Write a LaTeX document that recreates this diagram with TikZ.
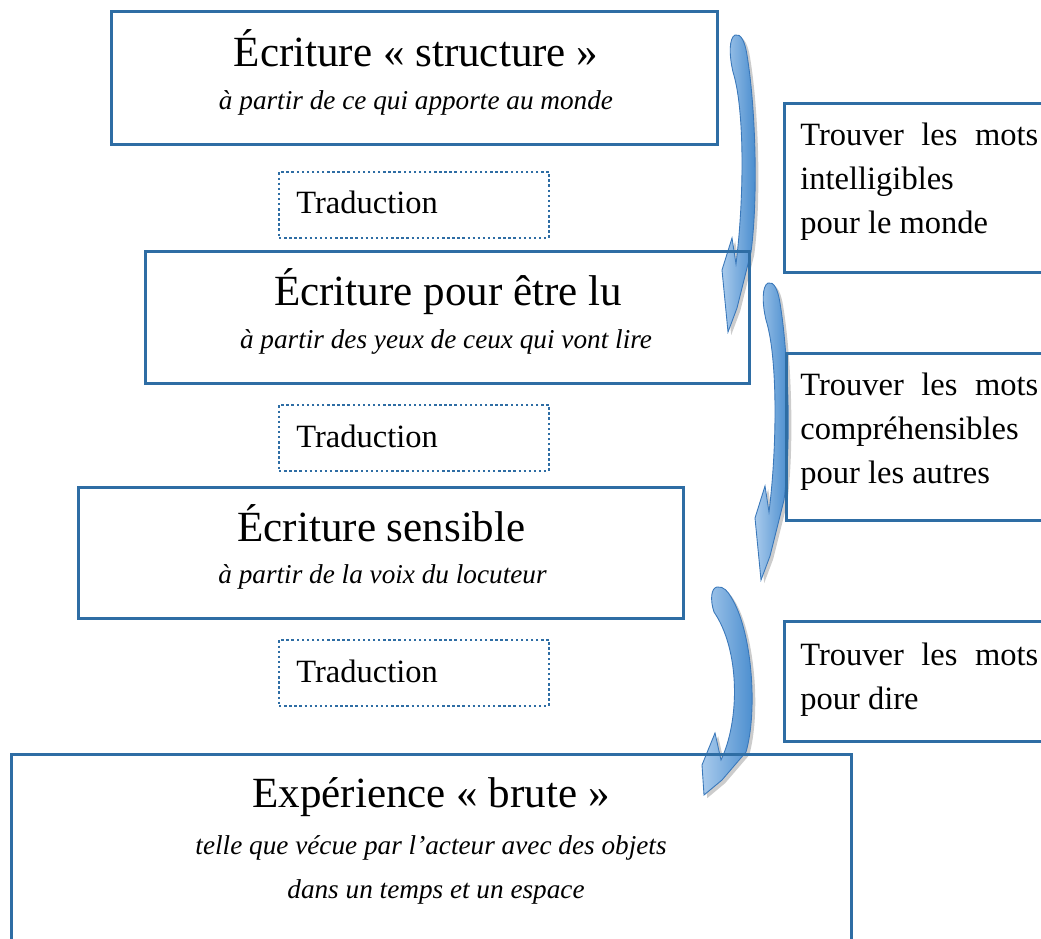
\documentclass[tikz,border=0pt]{standalone}
\usepackage{fontspec}
\setmainfont{Liberation Serif}
\usepackage{tikz}
\usetikzlibrary{positioning}

\definecolor{boxblue}{RGB}{46,109,164}
\definecolor{arrowblue}{RGB}{66,136,204}
\definecolor{arrowlight}{RGB}{168,202,236}
\definecolor{arrowline}{RGB}{58,120,186}

\tikzset{
  mainbox/.style={draw=boxblue, line width=1.7pt, rectangle, inner sep=0pt},
  tradbox/.style={draw=boxblue, line width=1.6pt, dash pattern=on 1.4pt off 1.5pt,
    rectangle, inner sep=0pt, minimum width=5.4cm, minimum height=1.32cm},
  sidebox/.style={draw=boxblue, line width=1.7pt, rectangle, inner sep=0pt,
    anchor=north west, minimum width=6cm},
  titre/.style={font=\fontsize{24.5}{29}\selectfont, anchor=base, inner sep=0pt},
  soustitre/.style={font=\fontsize{15.5}{20}\selectfont\itshape, anchor=base, inner sep=0pt},
  trad/.style={font=\fontsize{18.5}{25}\selectfont, anchor=base west, inner sep=0pt},
  sidetext/.style={font=\fontsize{18.5}{25}\selectfont, align=left, anchor=north west, inner sep=0pt},
  fleche/.style={draw=arrowline, line width=0.5pt, left color=arrowlight, right color=arrowblue,
    preaction={fill=black, opacity=0.2, transform canvas={shift={(1.8pt,-1.8pt)}}}}
}

\newcommand{\mots}{\makebox[4.76cm][s]{Trouver les mots}}

\begin{document}
\begin{tikzpicture}[x=0.02cm, y=-0.02cm]
  \useasboundingbox (0,0) rectangle (1041,939);

  % curved arrows on the right
  \path[fleche] (733,72) .. controls (729,55) and (729,38) .. (735,35)
    .. controls (741,33) and (745,42) .. (747,55)
    .. controls (756,110) and (758,200) .. (751,252)
    -- (737,308) -- (728,332) -- (722,270) -- (732,238) -- (736,264)
    .. controls (744,200) and (745,110) .. (733,72) -- cycle;
  \begin{scope}[shift={(33,248)}]
    \path[fleche] (733,72) .. controls (729,55) and (729,38) .. (735,35)
      .. controls (741,33) and (745,42) .. (747,55)
      .. controls (756,110) and (758,200) .. (751,252)
      -- (737,308) -- (728,332) -- (722,270) -- (732,238) -- (736,264)
      .. controls (744,200) and (745,110) .. (733,72) -- cycle;
  \end{scope}
  \path[fleche] (714,612) .. controls (710,600) and (711,588) .. (717,587)
    .. controls (724,586) and (728,592) .. (731,597)
    .. controls (752,630) and (758,710) .. (746,752)
    -- (722,780) -- (704,795) -- (702,765) -- (715,733) -- (721,760)
    .. controls (740,720) and (740,650) .. (714,612) -- cycle;

  % main boxes
  \node[mainbox, minimum width=12.14cm, minimum height=2.68cm] (structure) at (414.5,78) {};
  \node[titre] (structure-t) at (416,67) {Écriture « structure »};
  \node[soustitre] (structure-s) at (416,110) {à partir de ce qui apporte au monde};

  \node[mainbox, minimum width=12.1cm, minimum height=2.66cm] (lu) at (447.5,317.5) {};
  \node[titre] (lu-t) at (448,305) {Écriture pour être lu};
  \node[soustitre] (lu-s) at (446,348) {à partir des yeux de ceux qui vont lire};

  \node[mainbox, minimum width=12.12cm, minimum height=2.64cm] (sensible) at (381,553) {};
  \node[titre] (sensible-t) at (381.5,541) {Écriture sensible};
  \node[soustitre] (sensible-s) at (382.5,583) {à partir de la voix du locuteur};

  \node[mainbox, minimum width=16.82cm, minimum height=4.3cm] (brute) at (431.5,861.5) {};
  \node[titre] (brute-t) at (431,807) {Expérience « brute »};
  \node[soustitre] (brute-s1) at (431,854) {telle que vécue par l’acteur avec des objets};
  \node[soustitre] (brute-s2) at (436,898) {dans un temps et un espace};

  % translation steps
  \node[tradbox] (trad1) at (414,205) {};
  \node[trad] (trad1-t) at (296,214) {Traduction};
  \node[tradbox] (trad2) at (414,438) {};
  \node[trad] (trad2-t) at (296,447) {Traduction};
  \node[tradbox] (trad3) at (414,673) {};
  \node[trad] (trad3-t) at (296,682) {Traduction};

  % boxes on the right, cut by the page edge
  \node[sidebox, minimum height=3.38cm] (monde) at (783,102) {};
  \node[sidetext] (monde-t) at (800,123) {\mots\\intelligibles\\pour le monde};
  \node[sidebox, minimum height=3.34cm] (autres) at (785,352) {};
  \node[sidetext] (autres-t) at (800,373) {\mots\\compréhensibles\\pour les autres};
  \node[sidebox, minimum height=2.4cm] (dire) at (783,620) {};
  \node[sidetext] (dire-t) at (800,643) {\mots\\pour dire};
\end{tikzpicture}
\end{document}
